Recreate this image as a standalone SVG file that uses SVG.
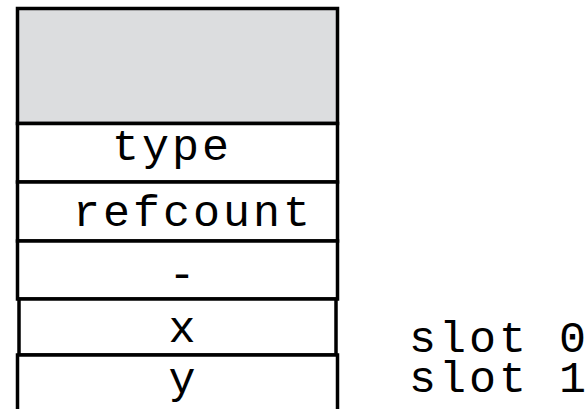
<svg xmlns="http://www.w3.org/2000/svg" width="588" height="409" viewBox="0 0 588 409">
  <style>
    .cell { fill: #ffffff; stroke: #000000; stroke-width: 3.5; }
    .head { fill: #dcdddf; stroke: #000000; stroke-width: 3.5; }
    .lbl { font-family: "Liberation Mono", "Courier New", monospace; font-size: 45px; fill: #000000; }
    .wide { letter-spacing: 3px; }
  </style>
  <rect width="588" height="409" fill="#ffffff"/>
  <g id="header">
    <rect class="head" x="17.5" y="8.5" width="320" height="115"/>
  </g>
  <g id="type">
    <rect class="cell" x="17.5" y="123.5" width="320" height="58.5"/>
    <text class="lbl wide" x="112" y="160">type</text>
  </g>
  <g id="refcount">
    <rect class="cell" x="17.5" y="182" width="320" height="59"/>
    <text class="lbl wide" x="73" y="226">refcount</text>
  </g>
  <g id="pad">
    <rect class="cell" x="17.5" y="241" width="320" height="58"/>
    <text class="lbl" x="182" y="288" text-anchor="middle">-</text>
  </g>
  <g id="slot0">
    <rect class="cell" x="19" y="299" width="317" height="56"/>
    <text class="lbl" x="182" y="342" text-anchor="middle">x</text>
  </g>
  <g id="slot1">
    <rect class="cell" x="17.5" y="355" width="320" height="70"/>
    <text class="lbl" x="182" y="393" text-anchor="middle">y</text>
  </g>
  <g id="slot-labels">
    <text class="lbl wide" x="409" y="352">slot 0</text>
    <text class="lbl wide" x="409" y="392">slot 1</text>
  </g>
</svg>
